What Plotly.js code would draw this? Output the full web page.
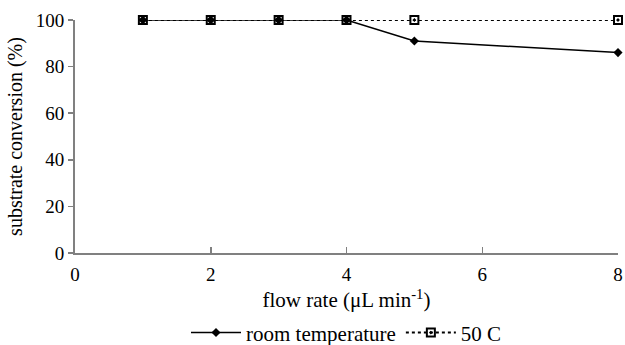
<!DOCTYPE html>
<html><head><meta charset="utf-8">
<script src="https://cdn.plot.ly/plotly-3.0.1.min.js"></script>
<style>html,body{margin:0;padding:0;background:#fff;}#chart{width:625px;height:345px;}</style>
</head><body><div id="chart"></div>
<script>
const flowRate = [1, 2, 3, 4, 5, 8];
const roomTemp = [100, 100, 100, 100, 91, 86];
const fiftyC = [100, 100, 100, 100, 100, 100];
const xTicks = [0, 2, 4, 6, 8];
const yTicks = [0, 20, 40, 60, 80, 100];

const FAM = 'Liberation Serif';

const traces = [
  {x: flowRate, y: fiftyC, name: '50 C', mode: 'lines+markers', cliponaxis: false,
   line: {color: '#000', width: 2, dash: 'dot'},
   marker: {symbol: 'square-open-dot', size: 8, color: '#000', line: {color: '#000', width: 2}}},
  {x: flowRate, y: roomTemp, name: 'room temperature', mode: 'lines+markers', cliponaxis: false,
   line: {color: '#000', width: 1.5},
   marker: {symbol: 'diamond', size: 7, color: '#000'}}
];

const layout = {
  width: 625, height: 345,
  margin: {l: 75, r: 7, t: 20, b: 92, autoexpand: false},
  paper_bgcolor: '#fff', plot_bgcolor: '#fff',
  font: {family: FAM, size: 18, color: '#000'},
  showlegend: true,
  legend: {orientation: 'h', xref: 'paper', x: 0.5, xanchor: 'center',
           yref: 'container', y: 0.035, yanchor: 'middle',
           traceorder: 'reversed', itemwidth: 50, font: {family: FAM, size: 21, color: '#000'}},
  xaxis: {range: [0, 8], tickvals: xTicks, ticktext: xTicks.map(String), automargin: false,
          showgrid: false, zeroline: false, showline: true, linecolor: '#808080', linewidth: 2,
          ticks: 'inside', ticklen: 6, tickcolor: '#808080', tickwidth: 1.5,
          ticklabelstandoff: 3,
          tickfont: {family: FAM, size: 19, color: '#000'},
          title: {text: 'flow rate (μL min<sup>-1</sup>)', font: {family: FAM, size: 21, color: '#000'}, standoff: 16}},
  yaxis: {range: [0, 100], tickvals: yTicks, ticktext: yTicks.map(String), automargin: false,
          showgrid: false, zeroline: false, showline: true, linecolor: '#808080', linewidth: 2,
          ticks: 'outside', ticklen: 5, tickcolor: '#808080', tickwidth: 1.5,
          tickfont: {family: FAM, size: 19, color: '#000'},
          title: {text: 'substrate conversion (%)', font: {family: FAM, size: 20, color: '#000'}, standoff: 8}}
};

Plotly.newPlot('chart', traces, layout, {displayModeBar: false, staticPlot: true});
</script></body></html>
